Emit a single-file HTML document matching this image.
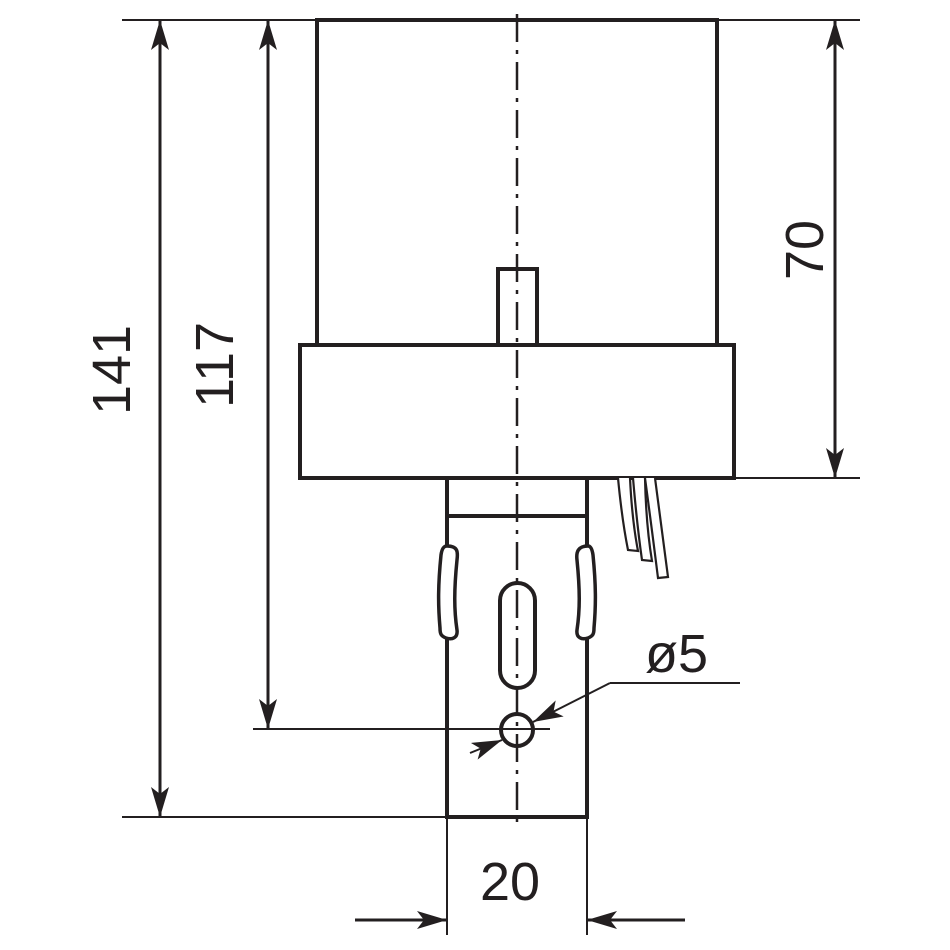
<!DOCTYPE html>
<html><head><style>body{margin:0;background:#fff}svg{display:block}</style></head>
<body>
<svg width="950" height="950" viewBox="0 0 950 950" xmlns="http://www.w3.org/2000/svg">
<defs>
<marker id="a" viewBox="0 0 30 18" refX="30" refY="9" markerWidth="30" markerHeight="18" markerUnits="userSpaceOnUse" orient="auto">
<path d="M0,0 L30,9 L0,18 L7,9 Z" fill="#231f20"/></marker>
</defs>
<g stroke="#231f20" fill="none">
<g stroke-width="2">
<line x1="122" y1="20" x2="860" y2="20"/>
<line x1="122" y1="817" x2="447" y2="817"/>
<line x1="253" y1="729" x2="550" y2="729"/>
<line x1="734" y1="478" x2="860" y2="478"/>
<line x1="447" y1="817" x2="447" y2="935"/>
<line x1="587" y1="817" x2="587" y2="935"/>
</g>
<g stroke-width="3">
<line x1="160" y1="120" x2="160" y2="20" marker-end="url(#a)"/>
<line x1="160" y1="700" x2="160" y2="817" marker-end="url(#a)"/>
<line x1="160" y1="120" x2="160" y2="700"/>
<line x1="268" y1="120" x2="268" y2="20" marker-end="url(#a)"/>
<line x1="268" y1="600" x2="268" y2="729" marker-end="url(#a)"/>
<line x1="268" y1="120" x2="268" y2="600"/>
<line x1="835" y1="120" x2="835" y2="20" marker-end="url(#a)"/>
<line x1="835" y1="400" x2="835" y2="478" marker-end="url(#a)"/>
<line x1="835" y1="120" x2="835" y2="400"/>
<line x1="355" y1="920" x2="447" y2="920" marker-end="url(#a)"/>
<line x1="685" y1="920" x2="587" y2="920" marker-end="url(#a)"/>
</g>
<g stroke-width="4">
<rect x="317" y="20" width="400" height="325"/>
<rect x="300" y="345" width="434" height="133"/>
<rect x="498" y="269" width="39" height="76"/>
<polyline points="447,478 447,817 587,817 587,478"/>
<line x1="447" y1="516" x2="587" y2="516"/>
<rect x="500" y="583" width="35" height="105" rx="17.5" fill="#fff"/>
<circle cx="517" cy="730" r="16"/>
</g>
<g stroke-width="3.5" fill="#fff">
<path d="M447,546 C458,546 458,552 457,560 C454,590 454,610 457,630 C458,638 452,640 446,638 C441,636 440,634 440,628 C438,605 438,585 441,555 C442,548 444,546 447,546 Z"/>
<path d="M588,546 C578,546 576,552 577,560 C580,590 580,610 577,630 C576,638 582,640 588,638 C593,636 594,634 594,628 C596,605 596,585 593,555 C592,548 590,546 588,546 Z"/>
</g>
<g stroke-width="2.2" fill="#fff">
<path d="M618,478 Q622,520 628,550 L638,551 Q632,520 630,478"/>
<path d="M633,478 Q637,525 642,560 L652,561 Q646,525 645,478"/>
<path d="M645,478 Q652,530 658,578 L668,577 Q662,530 655,478"/>
</g>
<line x1="517" y1="14" x2="517" y2="828" stroke-width="2.5" stroke-dasharray="28,8,4,8"/>
<g stroke-width="2">
<line x1="740" y1="683" x2="610" y2="683"/>
<line x1="610" y1="683" x2="533" y2="722" marker-end="url(#a)"/>
<line x1="470" y1="753" x2="502" y2="740" marker-end="url(#a)"/>
</g>
</g>
<g font-family="Liberation Sans, sans-serif" font-size="54" fill="#231f20">
<text x="510" y="900" text-anchor="middle">20</text>
<text x="645" y="672" font-size="54">ø5</text>
<text transform="translate(130,370) rotate(-90)" text-anchor="middle">141</text>
<text transform="translate(233,365) rotate(-90)" text-anchor="middle">117</text>
<text transform="translate(823,250) rotate(-90)" text-anchor="middle">70</text>
</g>
</svg>
</body></html>
